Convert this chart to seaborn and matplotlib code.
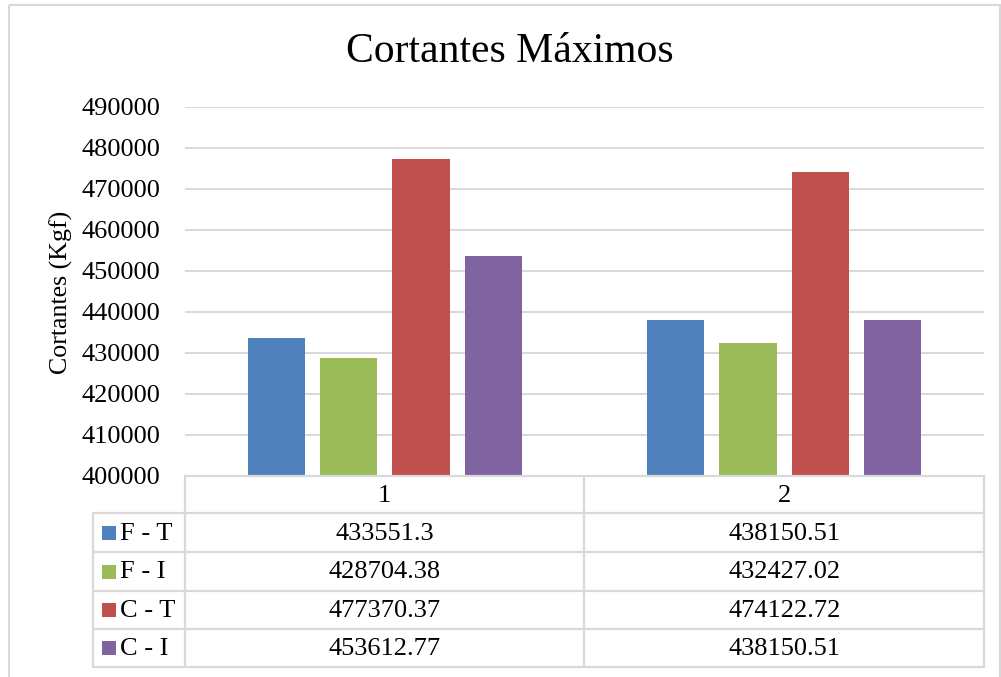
import matplotlib
matplotlib.use("Agg")
import matplotlib.pyplot as plt
import matplotlib.transforms as mtransforms
from matplotlib.patches import Rectangle
import seaborn as sns
import pandas as pd

# ---------------- data ----------------
categories = ["1", "2"]
series = ["F - T", "F - I", "C - T", "C - I"]
f_t = [433551.3, 438150.51]
f_i = [428704.38, 432427.02]
c_t = [477370.37, 474122.72]
c_i = [453612.77, 438150.51]
value_labels = [
    ["433551.3", "438150.51"],
    ["428704.38", "432427.02"],
    ["477370.37", "474122.72"],
    ["453612.77", "438150.51"],
]
colors = ["#4F81BD", "#9BBB59", "#C0504D", "#8064A2"]
yticks = list(range(400000, 490001, 10000))
title = "Cortantes Máximos"
ylabel = "Cortantes (Kgf)"

# ---------------- style ----------------
sns.set_theme(style="white")
plt.rcParams['font.family'] = ['Liberation Serif', 'DejaVu Serif']

W, H = 1001, 677
fig = plt.figure(figsize=(W / 100, H / 100), dpi=100)
fig.patch.set_facecolor("white")

# plot area (pixel layout)
left, right, top, bottom = 185, 984, 107, 476
ax = fig.add_axes([left / W, 1 - bottom / H, (right - left) / W, (bottom - top) / H])

rows = []
for s, vals in zip(series, [f_t, f_i, c_t, c_i]):
    for c, v in zip(categories, vals):
        rows.append({"cat": c, "val": v, "series": s})
df = pd.DataFrame(rows)

sns.barplot(data=df, x="cat", y="val", hue="series", hue_order=series,
            order=categories, palette=colors, saturation=1,
            width=0.725, gap=0.21, ax=ax, legend=False, errorbar=None,
            linewidth=0)

ax.set_xlim(-0.5, len(categories) - 0.5)
ax.set_ylim(yticks[0], yticks[-1])
ax.set_yticks(yticks)
ax.set_yticklabels([str(t) for t in yticks])
ax.tick_params(axis="y", length=0, pad=18, labelsize=19, labelcolor="black")
ax.set_xticks([])
ax.set_xlabel("")
ax.yaxis.grid(True, color="#D9D9D9", lw=1.4)
ax.set_axisbelow(True)
for sp in ax.spines.values():
    sp.set_visible(False)
ax.set_ylabel(ylabel, fontsize=18.6, color="black")
ax.yaxis.set_label_coords((73 - left) / (right - left), (bottom - 292) / (bottom - top))

# overlay in pixel coordinates for title, table, border
ov = fig.add_axes([0, 0, 1, 1], facecolor="none")
ov.set_xlim(0, W)
ov.set_ylim(H, 0)
ov.axis("off")

fig.text(510 / W, 1 - 52 / H, title, ha="center", va="center", fontsize=30, color="black")

# outer chart border
ov.add_patch(Rectangle((9, 5), W - 9 - 1, H, fill=False, ec="#D9D9D9", lw=1.5))

gc = "#D9D9D9"
glw = 1.6
row_y = [476, 513, 552, 591, 629, 667]
col_leg = 93
col_mid = 584
ov.plot([left, right], [row_y[0], row_y[0]], color=gc, lw=glw)
for yy in row_y[1:]:
    ov.plot([col_leg, right], [yy, yy], color=gc, lw=glw)
ov.plot([left, left], [row_y[0], row_y[-1]], color=gc, lw=glw)
ov.plot([col_mid, col_mid], [row_y[0], row_y[-1]], color=gc, lw=glw)
ov.plot([right, right], [row_y[0], row_y[-1]], color=gc, lw=glw)
ov.plot([col_leg, col_leg], [row_y[1], row_y[-1]], color=gc, lw=glw)

# table text: x from category data coords, y in pixel coords
tr = mtransforms.blended_transform_factory(ax.transData, ov.transData)
for i, c in enumerate(categories):
    ov.text(i, (row_y[0] + row_y[1]) / 2 + 1, c, transform=tr, ha="center", va="center",
            fontsize=19, color="black")
for r, s in enumerate(series):
    yc = (row_y[r + 1] + row_y[r + 2]) / 2
    for i in range(len(categories)):
        ov.text(i, yc + 1, value_labels[r][i], transform=tr, ha="center", va="center",
                fontsize=19, color="black")
    ov.add_patch(Rectangle((102, yc - 7), 14, 14, color=colors[r], lw=0))
    ov.text(120, yc + 1, s, ha="left", va="center", fontsize=19, color="black")

fig.savefig("out.png", dpi=100)
